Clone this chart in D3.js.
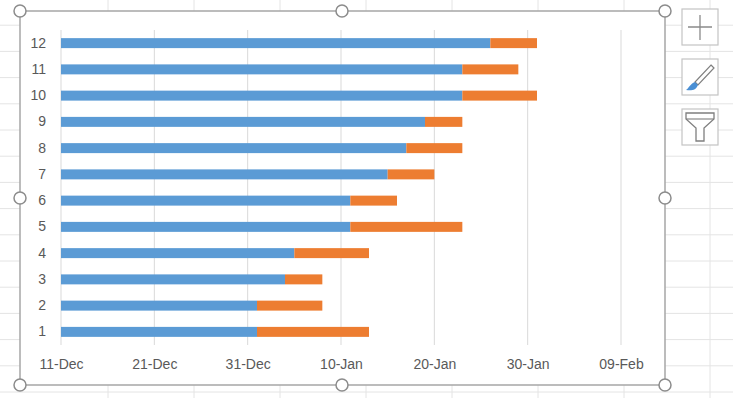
<!DOCTYPE html>
<html>
<head>
    <meta charset="utf-8">
    <title>Task schedule bar chart</title>
    <script src="https://cdn.jsdelivr.net/npm/d3@7/dist/d3.min.js"></script>
    <style>
        body { margin: 0; background: #fff; }
        text { font-family: "Liberation Sans", Arial, sans-serif; fill: #595959; }
    </style>
</head>
<body>
<script>
    // data
    var tasks = [1, 2, 3, 4, 5, 6, 7, 8, 9, 10, 11, 12];
    var startDates = ['2017-01-01', '2017-01-01', '2017-01-04', '2017-01-05', '2017-01-11', '2017-01-11',
        '2017-01-15', '2017-01-17', '2017-01-19', '2017-01-23', '2017-01-23', '2017-01-26'];
    var durations = [12, 7, 4, 8, 12, 5, 5, 6, 4, 8, 6, 5];
    var tickDates = ['2016-12-11', '2016-12-21', '2016-12-31', '2017-01-10', '2017-01-20', '2017-01-30', '2017-02-09'];

    var width = 750, height = 400;
    var parse = d3.utcParse('%Y-%m-%d');
    var ticks = tickDates.map(parse);

    var svg = d3.select('body').append('svg').attr('width', width).attr('height', height);

    // spreadsheet cells behind the chart
    var sheet = svg.append('g').attr('stroke', '#e4e4e4').attr('stroke-width', 1);
    sheet.selectAll('.row').data(d3.range(0, 16)).enter().append('line')
        .attr('x1', 0).attr('x2', 733)
        .attr('y1', d => 392 - d * 26.2).attr('y2', d => 392 - d * 26.2);
    sheet.selectAll('.col').data(d3.range(0, 8)).enter().append('line')
        .attr('x1', d => 108 + d * 86).attr('x2', d => 108 + d * 86)
        .attr('y1', 0).attr('y2', 398);

    // chart area
    svg.append('rect').attr('x', 20).attr('y', 11).attr('width', 645).attr('height', 374)
        .attr('fill', '#fff').attr('stroke', '#a6a6a6').attr('stroke-width', 1.5);

    var x = d3.scaleUtc().domain([ticks[0], ticks[ticks.length - 1]]).range([61, 621]);
    var y = d3.scaleBand().domain(tasks).range([345, 30]).paddingInner(0.62).paddingOuter(0.31);

    // vertical gridlines
    svg.append('g').selectAll('line').data(ticks).enter().append('line')
        .attr('x1', d => x(d)).attr('x2', d => x(d))
        .attr('y1', 30).attr('y2', 345)
        .attr('stroke', '#d9d9d9').attr('stroke-width', 1);

    var rows = tasks.map((t, i) => ({ task: t, start: parse(startDates[i]), dur: durations[i] }));

    var bars = svg.append('g');
    bars.selectAll('.start').data(rows).enter().append('rect')
        .attr('x', x(ticks[0]))
        .attr('y', d => y(d.task))
        .attr('width', d => x(d.start) - x(ticks[0]))
        .attr('height', y.bandwidth())
        .attr('fill', '#5b9bd5');
    bars.selectAll('.dur').data(rows).enter().append('rect')
        .attr('x', d => x(d.start))
        .attr('y', d => y(d.task))
        .attr('width', d => x(d3.utcDay.offset(d.start, d.dur)) - x(d.start))
        .attr('height', y.bandwidth())
        .attr('fill', '#ed7d31');

    // axes
    var xAxis = d3.axisBottom(x).tickValues(ticks).tickFormat(d3.utcFormat('%d-%b')).tickSize(0).tickPadding(0);
    var gx = svg.append('g').attr('transform', 'translate(0,359)').call(xAxis);
    gx.select('.domain').remove();
    gx.selectAll('text').attr('fill', '#595959').style('font-size', '14px').attr('dy', '0.7em');

    var yAxis = d3.axisLeft(y).tickSize(0).tickPadding(0);
    var gy = svg.append('g').attr('transform', 'translate(46,0)').call(yAxis);
    gy.select('.domain').remove();
    gy.selectAll('text').attr('fill', '#595959').style('font-size', '14px');

    // selection handles
    var handles = [[20, 11], [342, 11], [665, 11], [20, 198], [665, 198], [20, 385], [342, 385], [665, 385]];
    svg.append('g').selectAll('circle').data(handles).enter().append('circle')
        .attr('cx', d => d[0]).attr('cy', d => d[1]).attr('r', 6)
        .attr('fill', '#fff').attr('stroke', '#8c8c8c').attr('stroke-width', 1.5);

    // side buttons
    var btns = svg.append('g');
    [9, 59, 109].forEach(function (by) {
        btns.append('rect').attr('x', 682).attr('y', by).attr('width', 36).attr('height', 36)
            .attr('fill', '#fff').attr('stroke', '#c4c4c4').attr('stroke-width', 1.2);
    });
    btns.append('path').attr('d', 'M700,15V40M688,27H712').attr('stroke', '#8a8a8a').attr('stroke-width', 1.3).attr('fill', 'none');
    btns.append('path').attr('d', 'M711,65L714,68L698,85L695,82Z').attr('stroke', '#7f7f7f').attr('stroke-width', 1.2).attr('fill', '#fff');
    btns.append('path').attr('d', 'M695,82L698,85C696,90 692,91 686,90C689,88 690,84 695,82Z').attr('fill', '#4a8fd4');
    btns.append('path').attr('d', 'M686,113H714V119L704,128V141H696V128L686,119Z').attr('stroke', '#7f7f7f').attr('stroke-width', 1.3).attr('fill', 'none');
    btns.append('path').attr('d', 'M686,119H714').attr('stroke', '#7f7f7f').attr('stroke-width', 1.1);
</script>
</body>
</html>
